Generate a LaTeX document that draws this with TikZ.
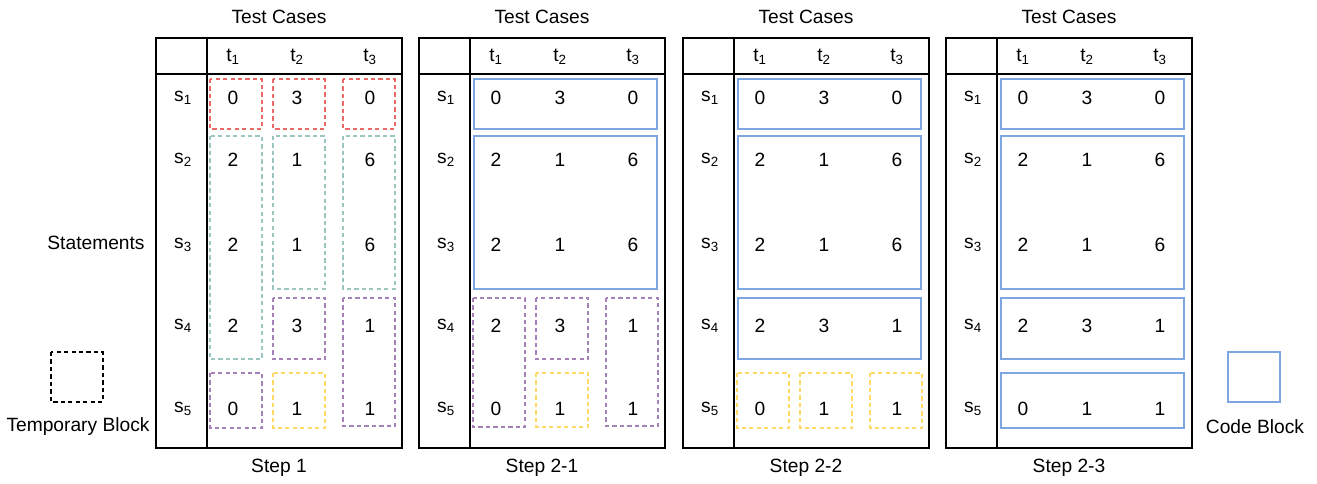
\documentclass[tikz,border=0pt]{standalone}
\usepackage{fontspec}
\setmainfont{Liberation Sans}
\usepackage{tikz}

\definecolor{tmpred}{HTML}{EA6B66}
\definecolor{tmpgreen}{HTML}{9AC7BF}
\definecolor{tmppurple}{HTML}{A680B8}
\definecolor{tmpyellow}{HTML}{FFD966}
\definecolor{codeblue}{HTML}{7EA6E0}

\tikzset{
	tmpblock/.style={draw=#1,line width=1pt,dash pattern=on 3.2pt off 2.4pt},
	codeblock/.style={draw=codeblue,line width=1pt},
	frame/.style={draw=black,line width=1.2pt},
	lbl/.style={inner sep=0pt,font=\fontsize{14.4}{17}\selectfont}
}

\begin{document}
\begin{tikzpicture}[x=0.75pt,y=-0.75pt]
			\useasboundingbox (0,0) rectangle (1317,484);
			% four tables
			\foreach \k/\ox/\stp in {1/156/Step 1,2/419/Step 2-1,3/683/Step 2-2,4/946/Step 2-3}{
				\begin{scope}[shift={(\ox,0)}]
					\draw[frame] (0,38) rectangle (246,448);
					\draw[frame] (0,74) -- (246,74);
					\draw[frame] (51,38) -- (51,448);
					\node[lbl] (tc\k) at (123,17) {Test Cases};
					\node[lbl] (step\k) at (123,468) {\stp};
					\foreach \c/\cx in {1/77,2/141,3/214}
						\node[lbl] (t\k-\c) at (\cx,57) {t\textsubscript{\c}};
					\foreach \r/\ry/\va/\vb/\vc in {1/98/0/3/0,2/160/2/1/6,3/245/2/1/6,4/326/2/3/1,5/409/0/1/1}{
						\node[lbl] (s\k-\r) at (27,\ry) {s\textsubscript{\r}};
						\node[lbl] (v\k-\r-1) at (77,\ry) {\va};
						\node[lbl] (v\k-\r-2) at (141,\ry) {\vb};
						\node[lbl] (v\k-\r-3) at (214,\ry) {\vc};
					}
				\end{scope}
			}
			% Step 1
			\begin{scope}[shift={(156,0)}]
				\draw[tmpblock=tmpred] (54,79) rectangle (106,129);
				\draw[tmpblock=tmpred] (117,79) rectangle (169,129);
				\draw[tmpblock=tmpred] (187,79) rectangle (239,129);
				\draw[tmpblock=tmpgreen] (54,136) rectangle (106,359);
				\draw[tmpblock=tmpgreen] (117,136) rectangle (169,289);
				\draw[tmpblock=tmpgreen] (187,136) rectangle (239,289);
				\draw[tmpblock=tmppurple] (117,298) rectangle (169,359);
				\draw[tmpblock=tmppurple] (187,298) rectangle (239,426);
				\draw[tmpblock=tmppurple] (54,373) rectangle (106,428);
				\draw[tmpblock=tmpyellow] (117,373) rectangle (169,428);
			\end{scope}
			% Step 2-1
			\begin{scope}[shift={(419,0)}]
				\draw[codeblock] (55,79) rectangle (238,129);
				\draw[codeblock] (55,136) rectangle (238,289);
				\draw[tmpblock=tmppurple] (54,298) rectangle (106,427);
				\draw[tmpblock=tmppurple] (117,298) rectangle (169,359);
				\draw[tmpblock=tmppurple] (187,298) rectangle (239,426);
				\draw[tmpblock=tmpyellow] (117,373) rectangle (169,427);
			\end{scope}
			% Step 2-2
			\begin{scope}[shift={(683,0)}]
				\draw[codeblock] (55,79) rectangle (238,129);
				\draw[codeblock] (55,136) rectangle (238,289);
				\draw[codeblock] (55,298) rectangle (238,359);
				\draw[tmpblock=tmpyellow] (54,373) rectangle (106,428);
				\draw[tmpblock=tmpyellow] (117,373) rectangle (169,428);
				\draw[tmpblock=tmpyellow] (187,373) rectangle (239,428);
			\end{scope}
			% Step 2-3
			\begin{scope}[shift={(946,0)}]
				\draw[codeblock] (55,79) rectangle (238,129);
				\draw[codeblock] (55,136) rectangle (238,289);
				\draw[codeblock] (55,298) rectangle (238,359);
				\draw[codeblock] (55,373) rectangle (238,428);
			\end{scope}
			% legend
			\node[lbl] (stmts) at (96,243) {Statements};
			\draw[tmpblock=black] (51,352) rectangle (103,402);
			\node[lbl] (tmplbl) at (78,427) {Temporary Block};
			\draw[codeblock] (1228,352) rectangle (1280,402);
			\node[lbl] (codelbl) at (1255,427) {Code Block};
		\end{tikzpicture}
\end{document}
